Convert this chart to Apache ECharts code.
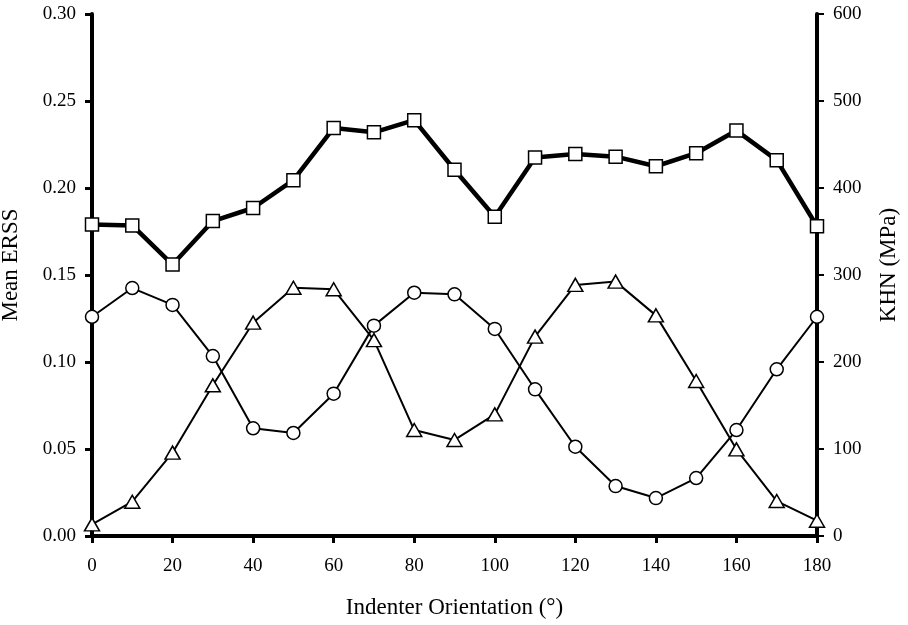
<!DOCTYPE html>
<html>
<head>
<meta charset="utf-8">
<script src="https://cdn.jsdelivr.net/npm/echarts@6/dist/echarts.min.js"></script>
<style>
  html, body { margin: 0; padding: 0; background: #fff; }
  #chart { width: 908px; height: 625px; }
</style>
</head>
<body>
<div id="chart"></div>
<script>
// indenter orientation (degrees)
const angles = [0, 10, 20, 30, 40, 50, 60, 70, 80, 90, 100, 110, 120, 130, 140, 150, 160, 170, 180]

// KHN (MPa) - squares, right axis
const khn = [358, 357, 312, 362, 377, 409, 469, 464, 478, 421, 367, 435, 439, 436, 425, 440, 466, 432, 356]

// mean ERSS - circles
const erssCircle = [0.126, 0.1425, 0.1328, 0.1034, 0.0619, 0.0592, 0.0818, 0.1209, 0.1398, 0.1389,
  0.119, 0.0843, 0.0513, 0.0287, 0.0218, 0.0333, 0.0609, 0.0958, 0.126]

// mean ERSS - triangles
const erssTriangle = [0.0067, 0.0197, 0.0479, 0.0866, 0.1226, 0.1427, 0.1418, 0.1126, 0.0609, 0.0552,
  0.0699, 0.1146, 0.1443, 0.1462, 0.1268, 0.0891, 0.0498, 0.0201, 0.0088]

const font = '"Liberation Serif", "Times New Roman", serif'
const black = '#000'

const pairs = ys => angles.map((a, i) => [a, ys[i]])

const chart = echarts.init(document.getElementById('chart'))

const markerStyle = { color: '#fff', borderColor: black, borderWidth: 1.5 }
const nameStyle = { fontFamily: font, fontSize: 23, color: black }
// y titles sit a little above the middle of the axis
const yNameStyle = { ...nameStyle, padding: [0, 0, 0, 20] }
const labelStyle = { fontFamily: font, fontSize: 19, color: black }

chart.setOption({
  animation: false,
  grid: { left: 92, right: 91, top: 14, bottom: 89, containLabel: false, outerBoundsMode: 'none' },
  xAxis: {
    type: 'value',
    min: 0,
    max: 180,
    interval: 20,
    name: 'Indenter Orientation (°)',
    nameLocation: 'middle',
    nameGap: 60,
    nameTextStyle: nameStyle,
    axisLine: { lineStyle: { color: black, width: 4 } },
    axisTick: { inside: false, length: 7, lineStyle: { color: black, width: 3 } },
    axisLabel: { ...labelStyle, margin: 21 },
    splitLine: { show: false }
  },
  yAxis: [
    {
      type: 'value',
      min: 0,
      max: 0.3,
      interval: 0.05,
      name: 'Mean ERSS',
      nameLocation: 'middle',
      nameRotate: 90,
      nameGap: 70,
      nameTextStyle: yNameStyle,
      axisLine: { show: true, lineStyle: { color: black, width: 4 } },
      axisTick: { show: true, length: 7, lineStyle: { color: black, width: 3 } },
      axisLabel: { ...labelStyle, margin: 16, formatter: v => v.toFixed(2) },
      splitLine: { show: false }
    },
    {
      type: 'value',
      position: 'right',
      min: 0,
      max: 600,
      interval: 100,
      name: 'KHN (MPa)',
      nameLocation: 'middle',
      nameRotate: 90,
      nameGap: 60,
      nameTextStyle: yNameStyle,
      axisLine: { show: true, lineStyle: { color: black, width: 4 } },
      axisTick: { show: true, length: 7, lineStyle: { color: black, width: 2 } },
      axisLabel: { ...labelStyle, margin: 16 },
      splitLine: { show: false }
    }
  ],
  series: [
    {
      name: 'ERSS circles',
      type: 'line',
      yAxisIndex: 0,
      data: pairs(erssCircle),
      symbol: 'circle',
      symbolSize: 13,
      lineStyle: { color: black, width: 2 },
      itemStyle: markerStyle,
      z: 3
    },
    {
      name: 'ERSS triangles',
      type: 'line',
      yAxisIndex: 0,
      data: pairs(erssTriangle),
      symbol: 'triangle',
      symbolSize: [15, 13],
      lineStyle: { color: black, width: 2 },
      itemStyle: markerStyle,
      z: 3
    },
    {
      name: 'KHN',
      type: 'line',
      yAxisIndex: 1,
      data: pairs(khn),
      symbol: 'rect',
      symbolSize: 13,
      lineStyle: { color: black, width: 4.5 },
      itemStyle: markerStyle,
      z: 4
    }
  ]
})
</script>
</body>
</html>
